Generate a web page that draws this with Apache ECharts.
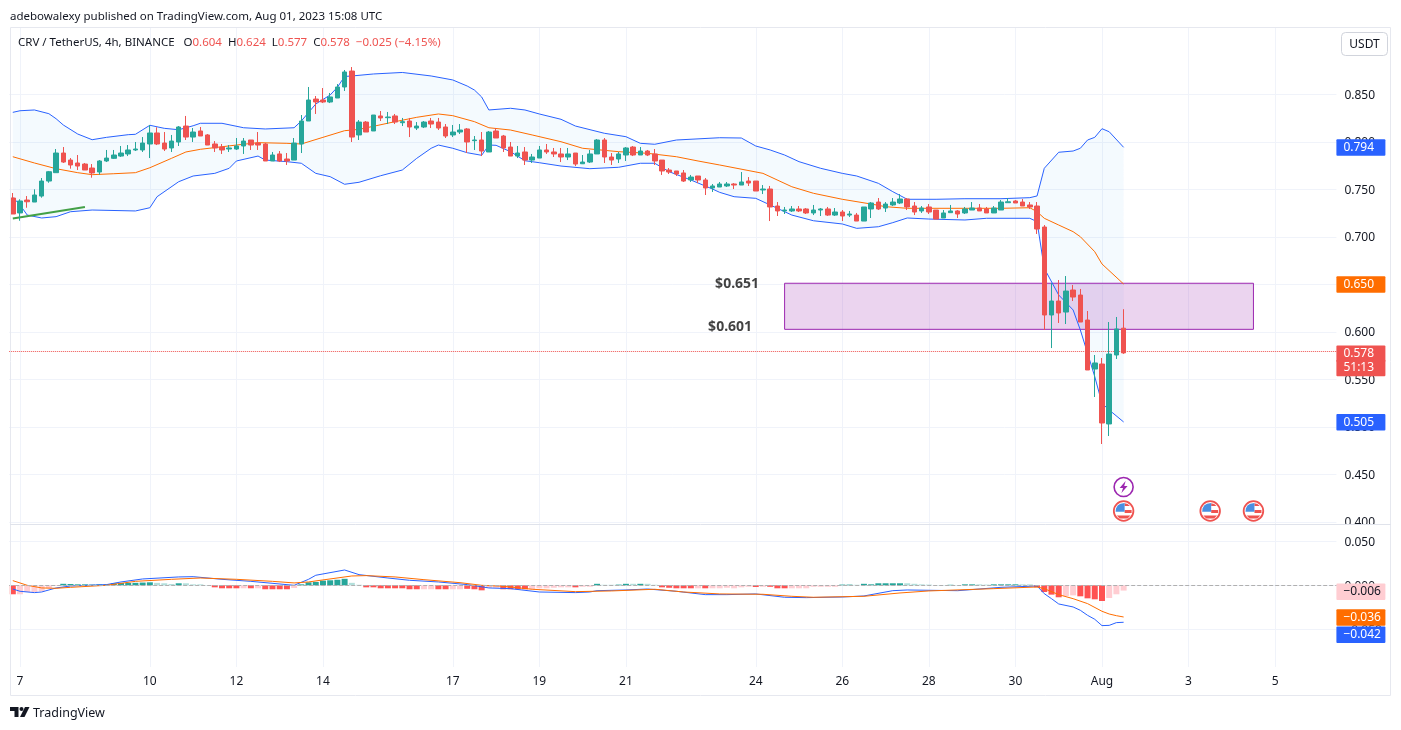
<!DOCTYPE html>
<html>
<head>
<meta charset="utf-8">
<style>html,body{margin:0;padding:0;background:#fff}#chart{width:1401px;height:730px}</style>
<script src="https://cdn.jsdelivr.net/npm/echarts@6/dist/echarts.min.js"></script>
</head>
<body>
<div id="chart"></div>
<script>
// open, close, low, high  (one row per 4h bar, from 6 Jul 20:00)
const candles = [
[.7410,.7242,.7242,.7463],[.7253,.7379,.7171,.7397],[.7389,.7371,.7308,.7431],[.7368,.7442,.7368,.7502],[.7431,.7589,.7414,.7621],
[.7589,.7687,.7571,.7695],[.7677,.7884,.7677,.7926],[.7884,.7789,.7779,.7947],[.7810,.7758,.7719,.7831],[.7779,.7747,.7705,.7863],
[.7768,.7705,.7705,.7779],[.7726,.7674,.7624,.7768],[.7684,.7800,.7656,.7810],[.7800,.7831,.7789,.7916],[.7828,.7863,.7821,.7916],
[.7852,.7884,.7842,.7958],[.7874,.7916,.7852,.7968],[.7916,.7926,.7905,.8000],[.7916,.7989,.7895,.8052],[.7979,.8095,.7831,.8179],
[.8095,.7979,.7968,.8155],[.7989,.7926,.7905,.8105],[.7937,.8010,.7895,.8074],[.8000,.8158,.7958,.8168],[.8168,.8052,.8021,.8274],
[.8052,.8105,.8000,.8147],[.8116,.8063,.8063,.8158],[.8074,.7968,.7968,.8084],[.7979,.7937,.7895,.8010],[.7947,.7916,.7874,.7979],
[.7926,.7937,.7895,.7968],[.7926,.7958,.7916,.8042],[.7958,.8010,.7874,.8042],[.8021,.7968,.7916,.8021],[.7989,.7968,.7916,.8105],
[.7979,.7800,.7800,.7990],[.7800,.7863,.7800,.7895],[.7874,.7800,.7789,.7905],[.7821,.7800,.7758,.7884],[.7810,.7989,.7810,.8042],
[.7979,.8221,.7884,.8284],[.8221,.8442,.8221,.8579],[.8452,.8421,.8295,.8484],[.8442,.8421,.8410,.8568],[.8421,.8474,.8410,.8516],
[.8463,.8579,.8463,.8610],[.8579,.8737,.8537,.8758],[.8747,.8052,.8000,.8789],[.8074,.8210,.8021,.8231],[.8210,.8105,.8105,.8221],
[.8116,.8284,.8116,.8284],[.8274,.8253,.8221,.8326],[.8256,.8263,.8189,.8316],[.8274,.8210,.8189,.8295],[.8203,.8214,.8168,.8253],
[.8221,.8158,.8052,.8253],[.8147,.8168,.8126,.8210],[.8158,.8210,.8147,.8221],[.8221,.8189,.8147,.8253],[.8210,.8147,.8126,.8253],
[.8158,.8063,.8042,.8189],[.8074,.8105,.8052,.8179],[.8105,.8126,.8084,.8189],[.8137,.8000,.7884,.8147],[.8014,.8021,.7916,.8063],
[.8021,.7905,.7852,.8105],[.7895,.8105,.7895,.8116],[.8116,.8042,.8042,.8147],[.8063,.7937,.7895,.8074],[.7947,.7852,.7852,.8000],
[.7852,.7884,.7831,.7958],[.7895,.7810,.7758,.7947],[.7810,.7842,.7779,.7874],[.7831,.7916,.7831,.7958],[.7916,.7895,.7874,.7979],
[.7895,.7874,.7842,.7937],[.7874,.7842,.7789,.7937],[.7842,.7874,.7810,.7937],[.7884,.7768,.7747,.7884],[.7771,.7789,.7768,.7863],
[.7789,.7874,.7779,.7916],[.7874,.8021,.7874,.8031],[.8021,.7842,.7779,.8042],[.7842,.7810,.7758,.7884],[.7821,.7874,.7779,.7895],
[.7863,.7937,.7800,.7947],[.7947,.7863,.7852,.7958],[.7863,.7905,.7863,.7947],[.7905,.7863,.7852,.7916],[.7874,.7800,.7758,.7926],
[.7810,.7695,.7653,.7810],[.7705,.7684,.7663,.7726],[.7695,.7663,.7642,.7695],[.7674,.7589,.7579,.7705],[.7600,.7631,.7579,.7653],
[.7642,.7600,.7568,.7642],[.7600,.7516,.7442,.7621],[.7516,.7537,.7474,.7558],[.7526,.7558,.7526,.7579],[.7537,.7558,.7526,.7579],
[.7558,.7547,.7505,.7568],[.7547,.7579,.7547,.7684],[.7589,.7568,.7537,.7631],[.7589,.7484,.7484,.7589],[.7495,.7505,.7452,.7547],
[.7505,.7316,.7168,.7537],[.7326,.7274,.7221,.7368],[.7274,.7284,.7242,.7316],[.7274,.7295,.7263,.7326],[.7295,.7274,.7263,.7326],
[.7295,.7253,.7242,.7305],[.7253,.7284,.7231,.7337],[.7284,.7295,.7221,.7305],[.7295,.7231,.7221,.7316],[.7231,.7263,.7221,.7305],
[.7263,.7221,.7168,.7284],[.7231,.7242,.7210,.7274],[.7231,.7168,.7168,.7253],[.7168,.7316,.7168,.7316],[.7295,.7358,.7200,.7368],
[.7368,.7295,.7284,.7410],[.7305,.7347,.7263,.7368],[.7337,.7368,.7326,.7410],[.7358,.7400,.7347,.7452],[.7400,.7316,.7284,.7410],
[.7326,.7263,.7231,.7368],[.7274,.7305,.7253,.7326],[.7316,.7263,.7242,.7347],[.7284,.7189,.7189,.7284],[.7200,.7253,.7200,.7284],
[.7256,.7274,.7253,.7337],[.7274,.7242,.7200,.7284],[.7253,.7295,.7242,.7316],[.7284,.7305,.7284,.7368],[.7305,.7274,.7274,.7347],
[.7295,.7253,.7253,.7316],[.7253,.7305,.7253,.7326],[.7284,.7368,.7284,.7389],[.7361,.7371,.7361,.7410],[.7379,.7358,.7358,.7389],
[.7368,.7326,.7326,.7400],[.7337,.7316,.7295,.7368],[.7326,.7084,.7032,.7368],[.7105,.6179,.6021,.7126],[.6179,.6326,.5831,.6516],
[.6326,.6200,.6095,.6547],[.6210,.6431,.6084,.6589],[.6442,.6368,.6326,.6495],[.6389,.6105,.6105,.6453],[.6126,.5600,.5600,.6221],
[.5610,.5674,.5316,.5758],[.5663,.5042,.4821,.5726],[.5032,.5768,.4905,.6105],[.5758,.6032,.5716,.6158],[.6040,.5780,.5770,.6240]
];
const bbUpper = [[0,.8312],[1,.8329],[3,.8337],[5,.8298],[6,.8245],[7,.8179],[9,.8084],[11,.8024],[13,.8049],[16,.8077],[17,.8081],[19,.8176],[21,.8144],[23,.8129],[25,.8171],[26,.8197],[29,.8197],[32,.8150],[35,.8137],[39,.8150],[40,.8221],[42,.8400],[44,.8495],[45,.8576],[46,.8690],[47,.8695],[50,.8716],[54,.8732],[58,.8695],[61,.8653],[63,.8589],[64,.8547],[65,.8474],[66,.8337],[69,.8355],[71,.8337],[73,.8295],[76,.8239],[78,.8168],[82,.8092],[85,.8056],[87,.7986],[89,.7976],[92,.8021],[98,.8045],[101,.8042],[103,.7958],[105,.7916],[107,.7863],[109,.7793],[112,.7723],[115,.7670],[117,.7642],[120,.7565],[122,.7477],[124,.7397],[128,.7397],[132,.7403],[137,.7403],[141,.7414],[142,.7432],[143,.7723],[145,.7892],[147,.7905],[148,.7934],[149,.8021],[150,.8049],[151,.8140],[152,.8108],[154,.7944]];
const bbMiddle = [[0,.7845],[3,.7779],[6,.7719],[9,.7677],[11,.7656],[14,.7666],[17,.7677],[19,.7729],[22,.7828],[24,.7895],[26,.7923],[31,.7968],[34,.7993],[38,.7986],[40,.7979],[43,.8049],[46,.8119],[48,.8133],[53,.8214],[56,.8260],[59,.8295],[61,.8277],[64,.8214],[66,.8150],[69,.8126],[72,.8074],[76,.8003],[79,.7934],[84,.7898],[88,.7881],[92,.7845],[95,.7800],[98,.7758],[104,.7670],[108,.7529],[111,.7460],[115,.7397],[119,.7347],[121,.7319],[124,.7302],[137,.7302],[141,.7308],[142,.7266],[143,.7197],[145,.7126],[147,.7056],[148,.7003],[150,.6845],[151,.6716],[154,.6505]];
const bbLower = [[0,.7418],[1,.7337],[2,.7231],[4,.7200],[6,.7214],[8,.7266],[11,.7284],[17,.7274],[19,.7308],[20,.7424],[23,.7582],[25,.7642],[28,.7670],[30,.7723],[31,.7800],[34,.7852],[35,.7810],[38,.7793],[40,.7776],[42,.7670],[44,.7635],[46,.7555],[48,.7576],[51,.7645],[54,.7705],[56,.7828],[58,.7934],[59,.7968],[61,.7934],[63,.7887],[65,.7860],[66,.7968],[67,.7965],[69,.7898],[71,.7803],[73,.7782],[76,.7747],[80,.7719],[84,.7734],[87,.7776],[89,.7776],[91,.7687],[94,.7600],[97,.7505],[98,.7470],[100,.7424],[103,.7407],[105,.7337],[108,.7231],[111,.7171],[115,.7137],[117,.7091],[120,.7108],[122,.7151],[124,.7200],[127,.7189],[132,.7179],[135,.7197],[141,.7197],[142,.7161],[143,.6670],[145,.6389],[147,.6232],[148,.6021],[149,.5776],[150,.5530],[151,.5249],[152,.5179],[154,.5053]];
const trendLine = [[0,.7194],[10,.7316]];
const zoneBox = {fromIndex:107, toIndex:172, top:.6513, bottom:.6028};
const lastPriceLine = .5775;
const priceNotes = [[100,.6500,'$0.651'],[100,.6053,'$0.601']];
const eventMarks = [[154,.4368,'bolt'],[154,.4116,'flag'],[166,.4116,'flag'],[172,.4116,'flag']];
const macdHist = [-.0102,-.0102,-.0076,-.0076,-.0068,-.0034,-.0008,.0017,.0015,.0011,.0011,.0008,.0011,.0011,.0023,.0026,.0026,.0028,.0031,.0034,.0028,.0023,.0015,.0023,.0023,.0011,.0011,.0003,-.0023,-.0034,-.0034,-.0034,-.0034,-.0034,-.0034,-.0045,-.0045,-.0045,-.0045,-.0031,.0011,.0034,.0038,.0053,.0057,.0063,.0074,.0028,.0006,-.0023,-.0023,-.0034,-.0034,-.0034,-.0034,-.0045,-.0045,-.0045,-.0045,-.0045,-.0045,-.0045,-.0045,-.0040,-.0045,-.0057,-.0028,-.0028,-.0045,-.0045,-.0045,-.0045,-.0045,-.0034,-.0034,-.0028,-.0023,-.0023,-.0023,-.0017,-.0017,.0017,.0006,.0006,.0008,.0017,.0017,.0017,.0017,.0006,-.0023,-.0028,-.0034,-.0034,-.0034,-.0034,-.0034,-.0034,-.0034,-.0028,-.0034,-.0023,-.0017,-.0019,-.0017,-.0017,-.0034,-.0034,-.0034,-.0034,-.0034,-.0017,-.0017,-.0017,-.0017,.0008,.0008,.0006,.0017,.0011,.0023,.0023,.0023,.0023,.0023,.0017,.0011,.0008,.0003,.0003,.0006,.0003,.0011,.0011,.0011,.0008,.0011,.0011,.0011,.0011,.0011,.0011,-.0023,-.0076,-.0106,-.0136,-.0122,-.0114,-.0125,-.0148,-.0159,-.0178,-.0144,-.0102,-.0060];
const macdStrong = [1,0,0,0,0,0,0,1,1,1,1,1,1,1,1,1,1,1,1,1,0,0,0,1,0,0,0,0,1,1,1,1,0,1,0,1,1,1,1,0,1,1,1,1,1,1,1,0,0,1,1,1,1,1,1,1,1,0,0,1,1,0,0,1,1,1,0,0,1,1,1,1,0,0,0,0,0,0,1,0,0,1,0,0,1,1,0,1,0,0,1,1,1,1,1,0,1,0,0,0,0,0,0,1,0,1,1,1,0,0,0,0,0,0,0,1,1,0,1,1,1,1,1,1,0,0,0,0,0,0,1,0,1,1,0,0,1,1,1,1,0,0,1,1,1,1,0,0,1,1,1,1,0,0,0];
const macdLine = [[0,-.0042],[1,-.0068],[3,-.0083],[4,-.0076],[6,-.0030],[8,-.0008],[13,.0008],[15,.0038],[18,.0072],[23,.0095],[25,.0098],[29,.0068],[33,.0045],[39,0],[41,.0068],[42,.0114],[46,.0174],[48,.0121],[52,.0083],[55,.0057],[59,.0038],[63,.0008],[66,-.0030],[69,-.0038],[73,-.0076],[78,-.0083],[80,-.0076],[81,-.0061],[85,-.0053],[88,-.0042],[92,-.0068],[96,-.0106],[99,-.0106],[103,-.0098],[107,-.0136],[110,-.0140],[115,-.0133],[118,-.0121],[122,-.0061],[124,-.0053],[131,-.0061],[137,-.0023],[142,-.0008],[143,-.0095],[144,-.0152],[145,-.0212],[147,-.0246],[148,-.0284],[149,-.0341],[150,-.0386],[151,-.0458],[152,-.0455],[153,-.0424],[154,-.042]];
const signalLine = [[0,.0053],[2,0],[4,-.0030],[6,-.0034],[8,-.0023],[13,0],[17,.0045],[22,.0068],[26,.0083],[31,.0068],[36,.0045],[39,.0027],[41,.0038],[43,.0061],[47,.0106],[49,.0110],[53,.0095],[57,.0064],[62,.0030],[65,0],[68,-.0011],[72,-.0045],[78,-.0072],[83,-.0064],[89,-.0045],[93,-.0076],[98,-.0098],[104,-.0102],[108,-.0125],[111,-.0136],[118,-.0125],[123,-.0087],[127,-.0064],[136,-.0038],[142,-.0019],[143,-.0038],[145,-.0106],[147,-.0152],[149,-.0208],[151,-.0295],[152,-.0326],[153,-.0345],[154,-.036]];
const dayTickIndex = [1,19,31,43,61,73,85,103,115,127,139,151,163,175];
const dayTickLabels = ['7','10','12','14','17','19','21','24','26','28','30','Aug','3','5'];
const priceTicks = [.85,.8,.75,.7,.65,.6,.55,.5,.45,.4];
const macdTicks = [.05,0,-.05];
const priceTags = [[.7942,'0.794','blue'],[.650,'0.650','orange'],[.5772,'0.578','red'],[.5622,'51:13','red'],[.505,'0.505','blue']];
const macdTags = [[-.0072,'−0.006','pink'],[-.0367,'−0.036','orange'],[-.0562,'−0.042','blue']];

const BAR_COUNT = 184;
const categories = Array.from({length:BAR_COUNT},(_,i)=>String(i));
const UP='#26a69a', DOWN='#ef5350', FONT='"Noto Sans", sans-serif', INK='#131722', GRID='#f0f3fa';
const isDayTick = i => dayTickIndex.includes(i);
const minusFmt = v => '{t|'+(v<0?'−':'')+Math.abs(v).toFixed(3)+'}';
const tickRich = {t:{color:INK,fontFamily:FONT,fontSize:12,padding:[2,0,0,0]}};

const tagBox = (bg,fg)=>({backgroundColor:bg,color:fg,width:42,height:16.5,lineHeight:16.5,padding:[0,0,0,7],fontFamily:FONT,fontSize:12,align:'left',borderRadius:1});
const tagRich = {blue:tagBox('#2962ff','#fff'),orange:tagBox('#ff6d00','#fff'),red:tagBox('#ef5350','#fff'),pink:tagBox('#ffcdd2',INK)};
const tagFmt = list => v => {const t=list.reduce((a,b)=>Math.abs(b[0]-v)<Math.abs(a[0]-v)?b:a);return '{'+t[2]+'|'+t[1]+'}';};

const xAxisBase = {type:'category',data:categories,boundaryGap:true,axisLine:{show:false},axisTick:{show:false},
  splitLine:{show:true,interval:isDayTick,alignWithLabel:true,lineStyle:{color:GRID,width:1}}};
const priceAxisBase = {type:'value',position:'right',scale:true,axisLine:{show:false}};

const bandFill = (params,api)=>{
  if(params.dataIndex!==0) return null;
  const pts = bbUpper.concat(bbLower.slice().reverse()).map(p=>api.coord(p));
  return {type:'polygon',shape:{points:pts},style:{fill:'rgba(33,150,243,0.05)'},silent:true};
};
const iconItem = (params,api)=>{
  const p = api.coord([api.value(0),api.value(1)]);
  const kind = eventMarks[params.dataIndex][2];
  const kids = [];
  const poly = (pts,fill)=>({type:'polygon',shape:{points:pts},style:{fill}});
  if(kind==='bolt'){
    kids.push({type:'circle',shape:{r:9.5},style:{fill:'#fff',stroke:'#9c27b0',lineWidth:1.6}});
    kids.push(poly([[2,-6],[-4,1],[-0.6,1],[-2.2,6],[4,-1],[0.6,-1]],'#9c27b0'));
  } else {
    kids.push({type:'circle',shape:{r:9.8},style:{fill:'#fff',stroke:'#ef5350',lineWidth:1.8}});
    kids.push(poly([[1,-7.8],[4,-7],[6.3,-5],[1,-5]],'#ef5350'));
    kids.push(poly([[1,-1],[8,-1],[8,2],[1,2]],'#ef5350'));
    kids.push(poly([[-6.8,4.5],[6.8,4.5],[4,7.6],[-4,7.6]],'#ef5350'));
    kids.push(poly([[-8,0.8],[-7.6,-2.5],[-6,-5.4],[-3.2,-7.2],[1,-8],[1,0.8]],'#4a90e2'));
  }
  return {type:'group',x:p[0],y:p[1],children:kids};
};

const chart = echarts.init(document.getElementById('chart'),null,{renderer:'canvas',width:1401,height:730});
chart.setOption({
  animation:false,
  backgroundColor:'#fff',
  grid:[
    {left:9.2,width:1327.2,top:27,height:497},
    {left:9.2,width:1327.2,top:525,height:142}
  ],
  xAxis:[
    Object.assign({},xAxisBase,{gridIndex:0,axisLabel:{show:false}}),
    Object.assign({},xAxisBase,{gridIndex:1,axisLabel:{show:true,interval:isDayTick,margin:9,color:INK,fontFamily:FONT,fontSize:12,
      formatter:(v)=>dayTickLabels[dayTickIndex.indexOf(+v)]}})
  ],
  yAxis:[
    Object.assign({},priceAxisBase,{gridIndex:0,min:.39789,max:.92105,
      axisTick:{show:false,customValues:priceTicks},
      axisLabel:{customValues:priceTicks,margin:8,rich:tickRich,formatter:minusFmt},
      splitLine:{show:true,lineStyle:{color:GRID,width:1}}}),
    Object.assign({},priceAxisBase,{gridIndex:0,min:.39789,max:.92105,
      axisTick:{show:false},splitLine:{show:false},
      axisLabel:{customValues:priceTags.map(t=>t[0]),margin:0,hideOverlap:false,rich:tagRich,formatter:tagFmt(priceTags)}}),
    Object.assign({},priceAxisBase,{gridIndex:1,min:-.0928,max:.0685,
      axisTick:{show:false,customValues:macdTicks},
      axisLabel:{customValues:macdTicks,margin:8,rich:tickRich,formatter:minusFmt},
      splitLine:{show:true,lineStyle:{color:GRID,width:1}}}),
    Object.assign({},priceAxisBase,{gridIndex:1,min:-.0928,max:.0685,
      axisTick:{show:false},splitLine:{show:false},
      axisLabel:{customValues:macdTags.map(t=>t[0]),margin:0,hideOverlap:false,rich:tagRich,formatter:tagFmt(macdTags)}})
  ],
  series:[
    {type:'custom',name:'BB fill',xAxisIndex:0,yAxisIndex:0,data:[[0,bbUpper[0][1]]],renderItem:bandFill,clip:true,z:1,silent:true,
      markArea:{silent:true,z:2,itemStyle:{color:'rgba(156,39,176,0.2)',borderColor:'#9c27b0',borderWidth:1},
        data:[[{xAxis:zoneBox.fromIndex,yAxis:zoneBox.top},{xAxis:zoneBox.toIndex,yAxis:zoneBox.bottom}]]}},
    {type:'line',name:'BB upper',xAxisIndex:0,yAxisIndex:0,data:bbUpper,showSymbol:false,lineStyle:{color:'#2962ff',width:1},z:3,silent:true},
    {type:'line',name:'BB lower',xAxisIndex:0,yAxisIndex:0,data:bbLower,showSymbol:false,lineStyle:{color:'#2962ff',width:1},z:3,silent:true},
    {type:'line',name:'BB basis',xAxisIndex:0,yAxisIndex:0,data:bbMiddle,showSymbol:false,lineStyle:{color:'#ff6d00',width:1},z:3,silent:true},
    {type:'line',name:'trend',xAxisIndex:0,yAxisIndex:0,data:trendLine,showSymbol:false,lineStyle:{color:'#43a047',width:2},z:4,silent:true},
    {type:'candlestick',name:'CRV',xAxisIndex:0,yAxisIndex:0,data:candles,barWidth:5,z:5,
      itemStyle:{color:UP,color0:DOWN,borderColor:UP,borderColor0:DOWN,borderWidth:1},
      markLine:{silent:true,symbol:'none',label:{show:false},lineStyle:{color:DOWN,type:'dotted',width:1},data:[{yAxis:lastPriceLine}]}},
    {type:'scatter',name:'notes',xAxisIndex:0,yAxisIndex:0,symbolSize:0,z:6,silent:true,
      data:priceNotes.map((n,k)=>({value:[n[0],n[1]],name:n[2],label:{offset:[k?-4:3,0]}})),
      label:{show:true,position:'inside',formatter:p=>p.name,color:'#111',fontFamily:FONT,fontWeight:700,fontSize:14}},
    {type:'custom',name:'events',xAxisIndex:0,yAxisIndex:0,data:eventMarks.map(e=>[e[0],e[1]]),renderItem:iconItem,z:7,silent:true,encode:{x:0,y:1}},
    {type:'bar',name:'MACD hist',xAxisIndex:1,yAxisIndex:2,barWidth:6,silent:true,z:2,
      data:macdHist.map((v,i)=>({value:v,itemStyle:{color:v>=0?(macdStrong[i]?'#26a69a':'#b2dfdb'):(macdStrong[i]?'#ff5252':'#ffcdd2')}})),
      markLine:{silent:true,symbol:'none',label:{show:false},lineStyle:{color:'#b0b0b0',type:'dashed',width:1},data:[{yAxis:0}]}},
    {type:'line',name:'MACD',xAxisIndex:1,yAxisIndex:2,data:macdLine,showSymbol:false,lineStyle:{color:'#2962ff',width:1},z:3,silent:true},
    {type:'line',name:'Signal',xAxisIndex:1,yAxisIndex:2,data:signalLine,showSymbol:false,lineStyle:{color:'#ff6d00',width:1},z:3,silent:true}
  ],
  graphic:[
    {type:'rect',z:90,silent:true,shape:{x:1337,y:524.5,width:53,height:8},style:{fill:'#fff'}},
    {type:'rect',z:91,silent:true,shape:{x:10.5,y:27.5,width:1380,height:668},style:{fill:'none',stroke:'#e6e8ef',lineWidth:1}},
    {type:'line',z:91,silent:true,shape:{x1:10,y1:524.5,x2:1391,y2:524.5},style:{stroke:'#e0e3eb',lineWidth:1}},
    {type:'text',z:92,silent:true,x:10,y:16.5,style:{text:'adebowalexy published on TradingView.com, Aug 01, 2023 15:08 UTC',font:'11.5px '+FONT,fill:INK,verticalAlign:'middle'}},
    {type:'text',z:92,silent:true,x:18,y:43,style:{text:'{k|CRV / TetherUS, 4h, BINANCE}   {k|O}{v|0.604}  {k|H}{v|0.624}  {k|L}{v|0.577}  {k|C}{v|0.578}  {v|−0.025 (−4.15%)}',
      font:'11.5px '+FONT,verticalAlign:'middle',rich:{k:{fill:INK,font:'11.5px '+FONT},v:{fill:'#ef5350',font:'11.5px '+FONT}}}},
    {type:'rect',z:92,silent:true,shape:{x:1341.5,y:32.5,width:46,height:23,r:4},style:{fill:'#fff',stroke:'#d1d4dc',lineWidth:1}},
    {type:'text',z:93,silent:true,x:1364.5,y:44.5,style:{text:'USDT',font:'12px '+FONT,fill:INK,align:'center',verticalAlign:'middle'}},
    {type:'polygon',z:92,silent:true,shape:{points:[[10,707],[18.5,707],[18.5,717],[14.5,717],[14.5,711],[10,711]]},style:{fill:INK}},
    {type:'circle',z:92,silent:true,shape:{cx:21.5,cy:709,r:2},style:{fill:INK}},
    {type:'polygon',z:92,silent:true,shape:{points:[[25,707],[29.5,707],[24.5,717],[20,717]]},style:{fill:INK}},
    {type:'text',z:92,silent:true,x:33,y:713,style:{text:'TradingView',font:'12.5px '+FONT,fill:INK,verticalAlign:'middle'}}
  ]
});
</script>
</body>
</html>
